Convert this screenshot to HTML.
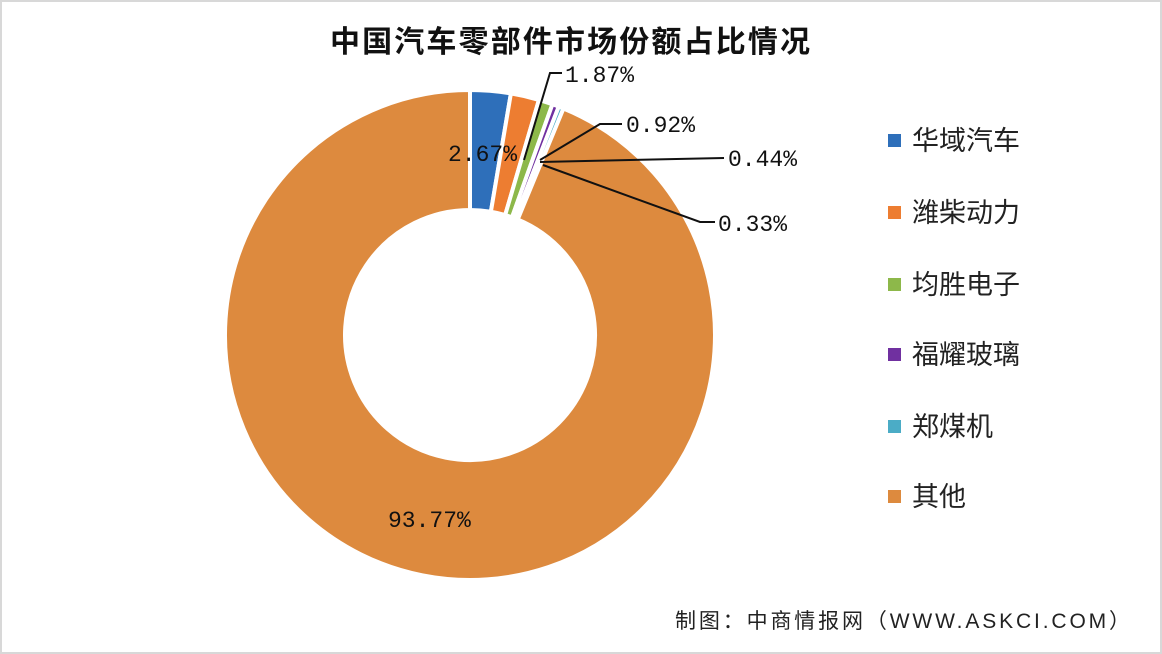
<!DOCTYPE html><html><head><meta charset="utf-8"><style>
body{margin:0;background:#fff;}
#c{position:relative;width:1162px;height:654px;overflow:hidden;font-family:"Liberation Sans","Noto Sans CJK SC",sans-serif;}
.lg{position:absolute;left:888px;font-size:27px;color:#222;height:30px;line-height:30px;}
.lg i{display:inline-block;width:13px;height:13px;margin-right:11px;vertical-align:middle;position:relative;top:-2px}
</style></head><body><div id="c">
<svg width="1162" height="654" style="position:absolute;left:0;top:0">
<rect x="1" y="1" width="1160" height="652" fill="none" stroke="#d8d8d8" stroke-width="2"/>
<g id="pie"></g>
<g stroke="#111" stroke-width="2" fill="none">
<polyline points="524,160 550,73 562,73"/>
<polyline points="540,160 600,124 622,124"/>
<polyline points="540,162 724,158"/>
<polyline points="543,165 700,222 715,222"/>
</g>
<g font-family="Liberation Mono,monospace" font-size="23" fill="#111">
<text x="448" y="161">2.67%</text>
<text x="565" y="82">1.87%</text>
<text x="626" y="132">0.92%</text>
<text x="728" y="166">0.44%</text>
<text x="718" y="231">0.33%</text>
<text x="388" y="527">93.77%</text>
</g>
<text x="330" y="52" textLength="480" font-size="30" font-weight="bold" fill="#111" font-family="Liberation Sans,Noto Sans CJK SC,sans-serif">中国汽车零部件市场份额占比情况</text>
<text x="675" y="628" textLength="455" font-size="21" fill="#222" font-family="Liberation Sans,Noto Sans CJK SC,sans-serif">制图：中商情报网（WWW.ASKCI.COM）</text>
</svg>
<div class="lg" style="top:126px"><i style="background:#2e6fba"></i>华域汽车</div>
<div class="lg" style="top:198px"><i style="background:#ed7d31"></i>潍柴动力</div>
<div class="lg" style="top:270px"><i style="background:#8db84a"></i>均胜电子</div>
<div class="lg" style="top:340px"><i style="background:#7030a0"></i>福耀玻璃</div>
<div class="lg" style="top:412px"><i style="background:#4bacc6"></i>郑煤机</div>
<div class="lg" style="top:482px"><i style="background:#dd8a3e"></i>其他</div>
</div>
<script>
var v=[2.67,1.87,0.92,0.44,0.33,93.77],col=["#2e6fba","#ed7d31","#8db84a","#7030a0","#4bacc6","#dd8a3e"];
var cx=470,cy=335,R=245,r=125,a=0,s="";
function p(rad,t){return [cx+rad*Math.sin(t),cy-rad*Math.cos(t)];}
for(var i=0;i<6;i++){var b=a+v[i]/100*2*Math.PI,l=(b-a)>Math.PI?1:0;
var A=p(R,a),B=p(R,b),C=p(r,b),D=p(r,a);
s+='<path d="M'+A+' A'+R+','+R+' 0 '+l+' 1 '+B+' L'+C+' A'+r+','+r+' 0 '+l+' 0 '+D+' Z" fill="'+col[i]+'" stroke="#fff" stroke-width="4"/>';a=b;}
document.getElementById("pie").innerHTML=s;
</script>
</body></html>
